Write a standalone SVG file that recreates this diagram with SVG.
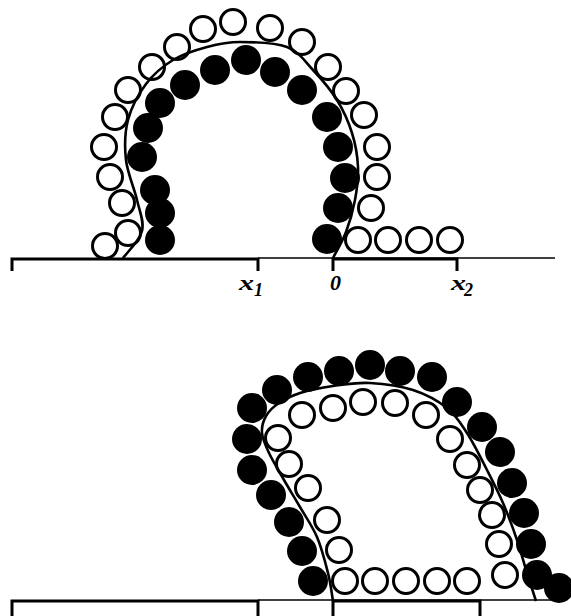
<svg xmlns="http://www.w3.org/2000/svg" width="571" height="616" viewBox="0 0 571 616">
<style>
.o{fill:#fff;stroke:#000;stroke-width:3}
.f{fill:#000}
.thick{stroke:#000;stroke-width:3;fill:none}
.thin{stroke:#000;stroke-width:1.3;fill:none}
.curve{stroke:#000;stroke-width:2.6;fill:none}
.lab{font-family:"Liberation Serif","Times New Roman",serif;font-style:italic;font-weight:bold;font-size:22px;fill:#000}
.sub{font-size:18px}
</style>
<rect width="571" height="616" fill="#fff"/>
<g id="axes">
<path class="thin" d="M258,258 H555"/>
<path class="thick" d="M12,271 V259 H258 V271"/>
<path class="thick" d="M333,271 V259 H457 V271"/>
<path class="thin" d="M258,600 H555"/>
<path class="thick" d="M12,616 V601 H258 V616"/>
<path class="thick" d="M333,616 V601 H480 V616"/>
</g>
<g id="labels">
<text class="lab" x="239" y="290" textLength="15" lengthAdjust="spacingAndGlyphs">x</text>
<text class="lab sub" x="254" y="296">1</text>
<text class="lab" x="330" y="290">0</text>
<text class="lab" x="451" y="290" textLength="15" lengthAdjust="spacingAndGlyphs">x</text>
<text class="lab sub" x="464" y="296">2</text>
</g>
<g id="top-open">
<circle class="o" cx="105" cy="246" r="12.5"/>
<circle class="o" cx="128" cy="233" r="12.5"/>
<circle class="o" cx="122" cy="203" r="12.5"/>
<circle class="o" cx="110" cy="177" r="12.5"/>
<circle class="o" cx="104" cy="147" r="12.5"/>
<circle class="o" cx="115" cy="117" r="12.5"/>
<circle class="o" cx="128" cy="90" r="12.5"/>
<circle class="o" cx="152" cy="67" r="12.5"/>
<circle class="o" cx="177" cy="47" r="12.5"/>
<circle class="o" cx="203" cy="29" r="12.5"/>
<circle class="o" cx="233" cy="22" r="12.5"/>
<circle class="o" cx="270" cy="28" r="12.5"/>
<circle class="o" cx="302" cy="42" r="12.5"/>
<circle class="o" cx="328" cy="67" r="12.5"/>
<circle class="o" cx="346" cy="91" r="12.5"/>
<circle class="o" cx="364" cy="115" r="12.5"/>
<circle class="o" cx="377" cy="147" r="12.5"/>
<circle class="o" cx="377" cy="177" r="12.5"/>
<circle class="o" cx="371" cy="208" r="12.5"/>
<circle class="o" cx="358" cy="240" r="12.5"/>
<circle class="o" cx="388" cy="240" r="12.5"/>
<circle class="o" cx="419" cy="240" r="12.5"/>
<circle class="o" cx="450" cy="240" r="12.5"/>
</g>
<g id="top-filled">
<circle class="f" cx="160" cy="240" r="15"/>
<circle class="f" cx="160" cy="213" r="15"/>
<circle class="f" cx="155" cy="190" r="15"/>
<circle class="f" cx="142" cy="157" r="15"/>
<circle class="f" cx="148" cy="128" r="15"/>
<circle class="f" cx="160" cy="103" r="15"/>
<circle class="f" cx="185" cy="85" r="15"/>
<circle class="f" cx="215" cy="70" r="15"/>
<circle class="f" cx="246" cy="60" r="15"/>
<circle class="f" cx="275" cy="72" r="15"/>
<circle class="f" cx="302" cy="90" r="15"/>
<circle class="f" cx="327" cy="117" r="15"/>
<circle class="f" cx="338" cy="147" r="15"/>
<circle class="f" cx="345" cy="178" r="15"/>
<circle class="f" cx="338" cy="208" r="15"/>
<circle class="f" cx="327" cy="239" r="15"/>
</g>
<g id="bottom-open">
<circle class="o" cx="302" cy="415" r="12.5"/>
<circle class="o" cx="333" cy="408" r="12.5"/>
<circle class="o" cx="363" cy="402" r="12.5"/>
<circle class="o" cx="395" cy="403" r="12.5"/>
<circle class="o" cx="426" cy="415" r="12.5"/>
<circle class="o" cx="450" cy="439" r="12.5"/>
<circle class="o" cx="467" cy="465" r="12.5"/>
<circle class="o" cx="480" cy="490" r="12.5"/>
<circle class="o" cx="492" cy="515" r="12.5"/>
<circle class="o" cx="499" cy="544" r="12.5"/>
<circle class="o" cx="505" cy="575" r="12.5"/>
<circle class="o" cx="278" cy="438" r="12.5"/>
<circle class="o" cx="289" cy="464" r="12.5"/>
<circle class="o" cx="308" cy="488" r="12.5"/>
<circle class="o" cx="327" cy="520" r="12.5"/>
<circle class="o" cx="339" cy="550" r="12.5"/>
<circle class="o" cx="345" cy="581" r="12.5"/>
<circle class="o" cx="375" cy="581" r="12.5"/>
<circle class="o" cx="406" cy="581" r="12.5"/>
<circle class="o" cx="437" cy="581" r="12.5"/>
<circle class="o" cx="467" cy="581" r="12.5"/>
</g>
<g id="bottom-filled">
<circle class="f" cx="252" cy="408" r="15"/>
<circle class="f" cx="277" cy="390" r="15"/>
<circle class="f" cx="308" cy="377" r="15"/>
<circle class="f" cx="339" cy="371" r="15"/>
<circle class="f" cx="370" cy="365" r="15"/>
<circle class="f" cx="400" cy="371" r="15"/>
<circle class="f" cx="432" cy="377" r="15"/>
<circle class="f" cx="457" cy="402" r="15"/>
<circle class="f" cx="482" cy="427" r="15"/>
<circle class="f" cx="500" cy="452" r="15"/>
<circle class="f" cx="512" cy="483" r="15"/>
<circle class="f" cx="524" cy="513" r="15"/>
<circle class="f" cx="531" cy="544" r="15"/>
<circle class="f" cx="537" cy="575" r="15"/>
<circle class="f" cx="559" cy="588" r="15"/>
<circle class="f" cx="247" cy="439" r="15"/>
<circle class="f" cx="252" cy="470" r="15"/>
<circle class="f" cx="271" cy="495" r="15"/>
<circle class="f" cx="289" cy="522" r="15"/>
<circle class="f" cx="302" cy="551" r="15"/>
<circle class="f" cx="313" cy="581" r="15"/>
</g>
<g id="connectors">
<path class="curve" d="M123,258 C126.2,253.5 139.7,240.7 142,231 C144.3,221.3 139.7,211.8 137,200 C134.3,188.2 127.5,173.3 126,160 C124.5,146.7 124.7,132.7 128,120 C131.3,107.3 138.5,94 146,84 C153.5,74 162.8,66.2 173,60 C183.2,53.8 195.8,50 207,47 C218.2,44 226.7,42 240,42 C253.3,42 274.8,42.3 287,47 C299.2,51.7 304.7,61.2 313,70 C321.3,78.8 330.5,89.5 337,100 C343.5,110.5 348.5,121.8 352,133 C355.5,144.2 357.5,155.8 358,167 C358.5,178.2 357,189.2 355,200 C353,210.8 349.7,222.3 346,232 C342.3,241.7 335.2,253.7 333,258"/>
<path class="curve" d="M333,601 C332.2,596.3 330.7,583.7 328,573 C325.3,562.3 321.7,548 317,537 C312.3,526 305.5,516.5 300,507 C294.5,497.5 289.2,489 284,480 C278.8,471 272.7,460.8 269,453 C265.3,445.2 262.5,439.2 262,433 C261.5,426.8 263.2,421 266,416 C268.8,411 273.3,406.8 279,403 C284.7,399.2 291,395.8 300,393 C309,390.2 321.3,387.7 333,386 C344.7,384.3 356.7,382.3 370,383 C383.3,383.7 400.2,385.8 413,390 C425.8,394.2 438,400.8 447,408 C456,415.2 460.3,422.7 467,433 C473.7,443.3 481,458.3 487,470 C493,481.7 498,491.3 503,503 C508,514.7 513,528.3 517,540 C521,551.7 523.8,562.8 527,573 C530.2,583.2 534.5,596.3 536,601"/>
</g>
</svg>
